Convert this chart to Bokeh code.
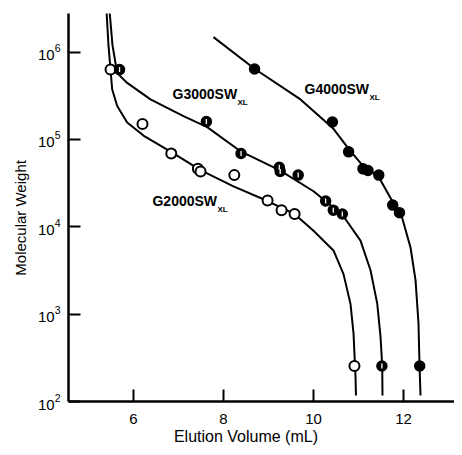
import numpy as np
from bokeh.plotting import figure
from bokeh.models import Label, Range1d, FixedTicker
from bokeh.embed import file_html
from bokeh.resources import INLINE

# ---- data ----
g2000_x = [5.49, 6.20, 6.84, 7.43, 7.49, 8.24, 8.98, 9.29, 9.58, 10.91]
g2000_y = [6.3e5, 1.5e5, 6.9e4, 4.6e4, 4.3e4, 3.9e4, 2.0e4, 1.55e4, 1.4e4, 255]

g3000_x = [5.69, 7.62, 8.39, 9.24, 9.26, 9.66, 10.27, 10.44, 10.64, 11.52]
g3000_y = [6.3e5, 1.6e5, 6.9e4, 4.8e4, 4.3e4, 3.9e4, 1.97e4, 1.55e4, 1.4e4, 255]

g4000_x = [8.69, 10.42, 10.78, 11.10, 11.21, 11.45, 11.76, 11.91, 12.36]
g4000_y = [6.4e5, 1.58e5, 7.2e4, 4.6e4, 4.4e4, 3.9e4, 1.77e4, 1.45e4, 255]

c2000_x = [5.400, 5.444, 5.527, 5.638, 5.860, 6.229, 6.844, 7.489, 8.222, 8.978,
           9.578, 10.0, 10.444, 10.667, 10.822, 10.889, 10.933, 10.944]
c2000_y = [3.0e6, 1.20e6, 3.72e5, 2.41e5, 1.56e5, 1.10e5, 7.16e4, 4.44e4, 2.90e4, 1.97e4,
           1.40e4, 9.0e3, 5.36e3, 2.87e3, 1.31e3, 603, 197, 117]

c3000_x = [5.467, 5.533, 5.638, 5.860, 6.378, 7.111, 7.638, 8.393, 9.244, 10.0,
           10.638, 11.044, 11.267, 11.416, 11.489, 11.527, 11.533]
c3000_y = [3.0e6, 1.20e6, 5.74e5, 4.43e5, 2.87e5, 1.85e5, 1.38e5, 7.23e4, 4.44e4, 2.55e4,
           1.38e4, 6.95e3, 3.18e3, 1.32e3, 557, 255, 117]

c4000_x = [7.778, 8.689, 9.711, 10.444, 10.778, 11.111, 11.444, 11.711, 11.971,
           12.156, 12.267, 12.333, 12.356, 12.378]
c4000_y = [1.48e6, 6.43e5, 2.87e5, 1.32e5, 7.82e4, 4.89e4, 3.77e4, 2.13e4, 1.26e4,
           5.79e3, 2.45e3, 782, 255, 117]

x_ticks = [6, 8, 10, 12]
y_ticks = [1e2, 1e3, 1e4, 1e5, 1e6]

FONT = "Liberation Sans"

p = figure(width=454, height=447, y_axis_type="log",
           x_range=Range1d(4.556, 13.133), y_range=Range1d(100, 10 ** 6.441),
           output_backend="svg", toolbar_location=None,
           min_border_left=68, min_border_right=0, min_border_top=13, min_border_bottom=41)
p.outline_line_color = None
p.xgrid.visible = False
p.ygrid.visible = False
p.background_fill_color = "white"

for ax in (p.xaxis[0], p.yaxis[0]):
    ax.axis_line_width = 2.5
    ax.axis_line_color = "black"
    ax.major_tick_line_width = 2
    ax.major_tick_line_color = "black"
    ax.major_tick_in = 12
    ax.major_tick_out = 0
    ax.minor_tick_line_color = None
    ax.major_label_text_font = FONT
    ax.major_label_text_color = "black"
    ax.axis_label_text_font = FONT
    ax.axis_label_text_font_style = "normal"
    ax.axis_label_text_color = "black"

p.xaxis.major_label_text_font_size = "15px"
p.yaxis.major_label_text_font_size = "15px"
p.xaxis.ticker = FixedTicker(ticks=x_ticks)
p.yaxis.ticker = FixedTicker(ticks=y_ticks)
p.xaxis.major_label_standoff = 12
p.yaxis.major_label_standoff = 8
p.yaxis.axis_label = "Molecular Weight" + "\u00a0" * 5
p.yaxis.axis_label_text_font_size = "15px"
p.yaxis.axis_label_standoff = 6
p.xaxis.axis_label = "Elution Volume (mL)" + "\u00a0" * 7
p.xaxis.axis_label_text_font_size = "16px"
p.xaxis.axis_label_standoff = 1

# curves
for cx, cy in ((c2000_x, c2000_y), (c3000_x, c3000_y), (c4000_x, c4000_y)):
    p.line(cx, cy, line_color="black", line_width=2)

# markers
p.scatter(g2000_x, g2000_y, size=10, marker="circle", fill_color="white",
          line_color="black", line_width=2)
p.scatter(g3000_x, g3000_y, size=10, marker="circle", fill_color="black",
          line_color="black", line_width=1.5)
p.scatter(g3000_x, g3000_y, size=5, marker="dash", angle=np.pi / 2,
          line_color="white", line_width=1.3)
p.scatter(g4000_x, g4000_y, size=10, marker="circle", fill_color="black",
          line_color="black", line_width=1.5)

# series labels with subscripts
for name, lx, ly in (("G3000SW", 6.867, 3.27e5), ("G4000SW", 9.80, 3.73e5),
                     ("G2000SW", 6.422, 1.97e4)):
    p.add_layout(Label(x=lx, y=ly, text=name, text_font=FONT, text_font_size="14px",
                       text_font_style="bold", text_baseline="middle", text_align="left",
                       text_color="black"))
    p.add_layout(Label(x=lx, y=ly, x_offset=65, y_offset=-8, text="XL", text_font=FONT,
                       text_font_size="8px", text_font_style="bold",
                       text_baseline="middle", text_align="left", text_color="black"))

open("out.html", "w").write(file_html(p, INLINE))
